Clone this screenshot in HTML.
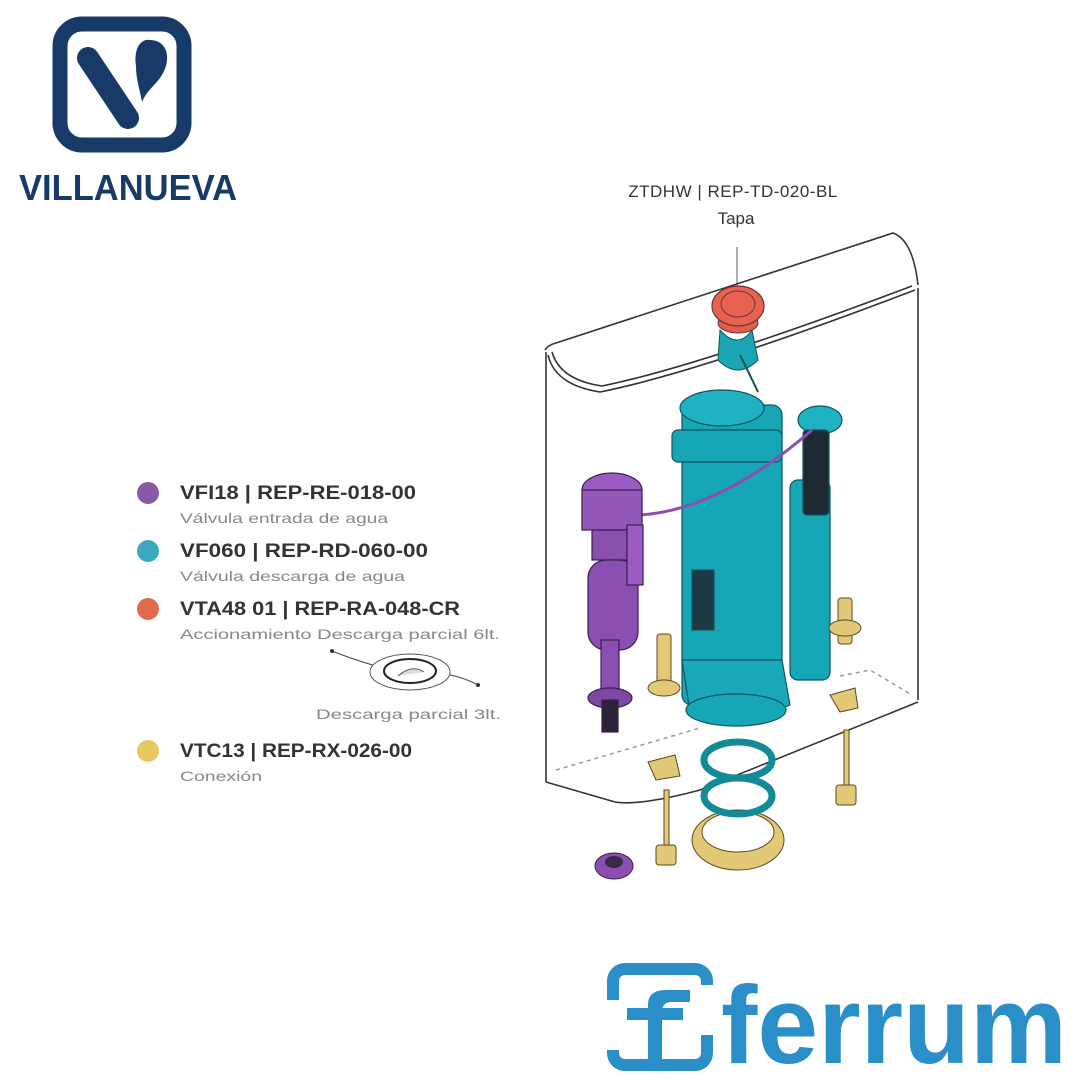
<!DOCTYPE html>
<html><head><meta charset="utf-8"><style>
html,body{margin:0;padding:0;background:#fff;}
svg{display:block;}
text{font-family:"Liberation Sans",sans-serif;}
</style></head><body>
<svg width="1080" height="1080" viewBox="0 0 1080 1080" xmlns="http://www.w3.org/2000/svg">
<!-- Villanueva logo -->
<rect x="60" y="24" width="124" height="121" rx="22" fill="none" stroke="#173a68" stroke-width="15"/>
<line x1="88" y1="58" x2="128" y2="118" stroke="#173a68" stroke-width="22" stroke-linecap="round"/>
<path d="M146 40 C170 38 172 62 160 78 C154 86 146 92 142 102 C140 90 136 80 136 66 C134 52 138 42 146 40Z" fill="#173a68"/>
<text x="128" y="200" text-anchor="middle" font-size="36" font-weight="bold" fill="#173a68" textLength="218" lengthAdjust="spacingAndGlyphs">VILLANUEVA</text>

<!-- header -->
<text x="733" y="197" text-anchor="middle" font-size="17" fill="#333" letter-spacing="0.5">ZTDHW | REP-TD-020-BL</text>
<text x="736" y="224" text-anchor="middle" font-size="17" fill="#333">Tapa</text>
<line x1="737" y1="247" x2="737" y2="290" stroke="#777" stroke-width="1.2"/>

<!-- tank -->
<g fill="none" stroke="#333" stroke-width="1.6">
<path d="M545 350 Q548 345 556 343 L893 233 Q913 240 918 285"/>
<path d="M548 355 Q555 385 600 392 Q700 372 915 290"/>
<path d="M552 352 Q560 380 602 386 Q700 366 912 286"/>
<line x1="546" y1="352" x2="546" y2="782"/>
<line x1="918" y1="288" x2="918" y2="700"/>
<path d="M546 782 L615 802 Q640 806 700 790 L918 702"/>
</g>
<g fill="none" stroke="#999" stroke-width="1.5" stroke-dasharray="4,4">
<path d="M556 770 L700 728"/>
<path d="M840 676 L870 670 L912 695"/>
</g>

<!-- red cap -->
<path d="M720 330 Q738 350 752 330 L758 360 Q738 380 718 360Z" fill="#1aa5b5" stroke="#155" stroke-width="1"/>
<ellipse cx="738" cy="323" rx="20" ry="10" fill="#e05f4c" stroke="#633" stroke-width="1"/>
<ellipse cx="738" cy="306" rx="26" ry="20" fill="#e8634f" stroke="#633" stroke-width="1.2"/>
<ellipse cx="738" cy="304" rx="17" ry="13" fill="none" stroke="#633" stroke-width="1"/>
<path d="M740 355 Q750 375 758 392" stroke="#155" stroke-width="2" fill="none"/>

<!-- teal main valve -->
<g stroke="#0e5560" stroke-width="1.2">
<rect x="682" y="405" width="100" height="300" rx="10" fill="#17a6b6"/>
<ellipse cx="722" cy="408" rx="42" ry="18" fill="#1fb2c2"/>
<rect x="672" y="430" width="110" height="32" rx="6" fill="#17a6b6"/>
<rect x="790" y="480" width="40" height="200" rx="8" fill="#17a6b6"/>
<ellipse cx="820" cy="420" rx="22" ry="14" fill="#1fb2c2"/>
<rect x="803" y="430" width="26" height="85" rx="4" fill="#1d2a33"/>
<path d="M682 660 L782 660 L790 705 Q740 728 690 712 Z" fill="#1aa8b8"/>
<ellipse cx="736" cy="710" rx="50" ry="16" fill="#17a6b6"/>
<rect x="692" y="570" width="22" height="60" fill="#1d3a44"/>
</g>
<path d="M640 515 Q720 510 812 430" stroke="#8a4fb0" stroke-width="3" fill="none"/>

<!-- purple inlet valve -->
<g stroke="#3a1f50" stroke-width="1.2">
<ellipse cx="612" cy="490" rx="30" ry="17" fill="#9a5cc0"/>
<rect x="582" y="490" width="60" height="40" fill="#9257b8"/>
<rect x="592" y="530" width="50" height="30" fill="#8a50ae"/>
<rect x="588" y="560" width="50" height="90" rx="18" fill="#8a4fb0"/>
<rect x="627" y="525" width="16" height="60" fill="#9a5cc0"/>
<rect x="601" y="640" width="18" height="55" fill="#8a4fb0"/>
<ellipse cx="610" cy="698" rx="22" ry="10" fill="#7e47a3"/>
<rect x="602" y="700" width="16" height="32" fill="#2a2238"/>
</g>

<!-- gold parts -->
<g stroke="#5a4a20" stroke-width="1" fill="#e2c877">
<rect x="657" y="634" width="14" height="50" rx="3"/>
<ellipse cx="664" cy="688" rx="16" ry="8"/>
<rect x="838" y="598" width="14" height="46" rx="3"/>
<ellipse cx="845" cy="628" rx="16" ry="8"/>
<path d="M830 695 L855 688 L858 708 L840 712Z"/>
<path d="M648 762 L675 755 L680 776 L656 780Z"/>
<rect x="664" y="790" width="5" height="58"/>
<rect x="656" y="845" width="20" height="20" rx="3"/>
<rect x="844" y="730" width="5" height="55"/>
<rect x="836" y="785" width="20" height="20" rx="3"/>
<ellipse cx="738" cy="840" rx="46" ry="30" fill="#e2c877"/>
<ellipse cx="738" cy="832" rx="36" ry="20" fill="#fff"/>
</g>
<g fill="none" stroke="#148a98" stroke-width="7">
<ellipse cx="738" cy="760" rx="34" ry="18"/>
<ellipse cx="738" cy="796" rx="34" ry="18"/>
</g>
<ellipse cx="614" cy="866" rx="19" ry="13" fill="#8a4fb0" stroke="#3a1f50"/>
<ellipse cx="614" cy="862" rx="9" ry="6" fill="#3a2a48"/>

<!-- legend -->
<circle cx="148" cy="493" r="11" fill="#8b58a8"/>
<circle cx="148" cy="551" r="11" fill="#3aa9c0"/>
<circle cx="148" cy="609" r="11" fill="#e06a4a"/>
<circle cx="148" cy="751" r="11" fill="#e8c860"/>
<g font-size="19" fill="#333" font-weight="bold">
<text x="180" y="499" textLength="236" lengthAdjust="spacingAndGlyphs">VFI18 | REP-RE-018-00</text>
<text x="180" y="557" textLength="248" lengthAdjust="spacingAndGlyphs">VF060 | REP-RD-060-00</text>
<text x="180" y="615" textLength="280" lengthAdjust="spacingAndGlyphs">VTA48 01 | REP-RA-048-CR</text>
<text x="180" y="757" textLength="232" lengthAdjust="spacingAndGlyphs">VTC13 | REP-RX-026-00</text>
</g>
<g font-size="14" fill="#888">
<text x="180" y="523" textLength="208" lengthAdjust="spacingAndGlyphs">Válvula entrada de agua</text>
<text x="180" y="581" textLength="225" lengthAdjust="spacingAndGlyphs">Válvula descarga de agua</text>
<text x="180" y="639" textLength="320" lengthAdjust="spacingAndGlyphs">Accionamiento Descarga parcial 6lt.</text>
<text x="316" y="719" textLength="185" lengthAdjust="spacingAndGlyphs">Descarga parcial 3lt.</text>
<text x="180" y="781" textLength="82" lengthAdjust="spacingAndGlyphs">Conexión</text>
</g>
<path d="M332 651 Q380 670 410 672 Q450 670 478 685" fill="none" stroke="#444" stroke-width="1"/>
<circle cx="332" cy="651" r="2" fill="#333"/><circle cx="478" cy="685" r="2" fill="#333"/>
<ellipse cx="410" cy="672" rx="40" ry="18" fill="#fff" stroke="#555" stroke-width="1"/>
<ellipse cx="410" cy="671" rx="26" ry="12" fill="#fff" stroke="#222" stroke-width="2"/>
<path d="M398 676 Q412 664 424 672" fill="#ddd" stroke="#555"/>

<!-- ferrum logo -->
<rect x="613" y="969" width="94" height="96" rx="12" fill="none" stroke="#2a8fc8" stroke-width="12"/>
<rect x="600" y="1000" width="20" height="50" fill="#fff"/>
<rect x="700" y="985" width="20" height="50" fill="#fff"/>
<rect x="627" y="1008" width="56" height="12" fill="#2a8fc8"/>
<path d="M648 1065 L648 1005 Q648 990 666 990 L690 990 L690 1002 L672 1002 Q662 1002 662 1012 L662 1065Z" fill="#2a8fc8"/>
<text x="721" y="1063" font-size="110" font-weight="bold" fill="#2a8fc8" textLength="346" lengthAdjust="spacingAndGlyphs">ferrum</text>
</svg>
</body></html>
